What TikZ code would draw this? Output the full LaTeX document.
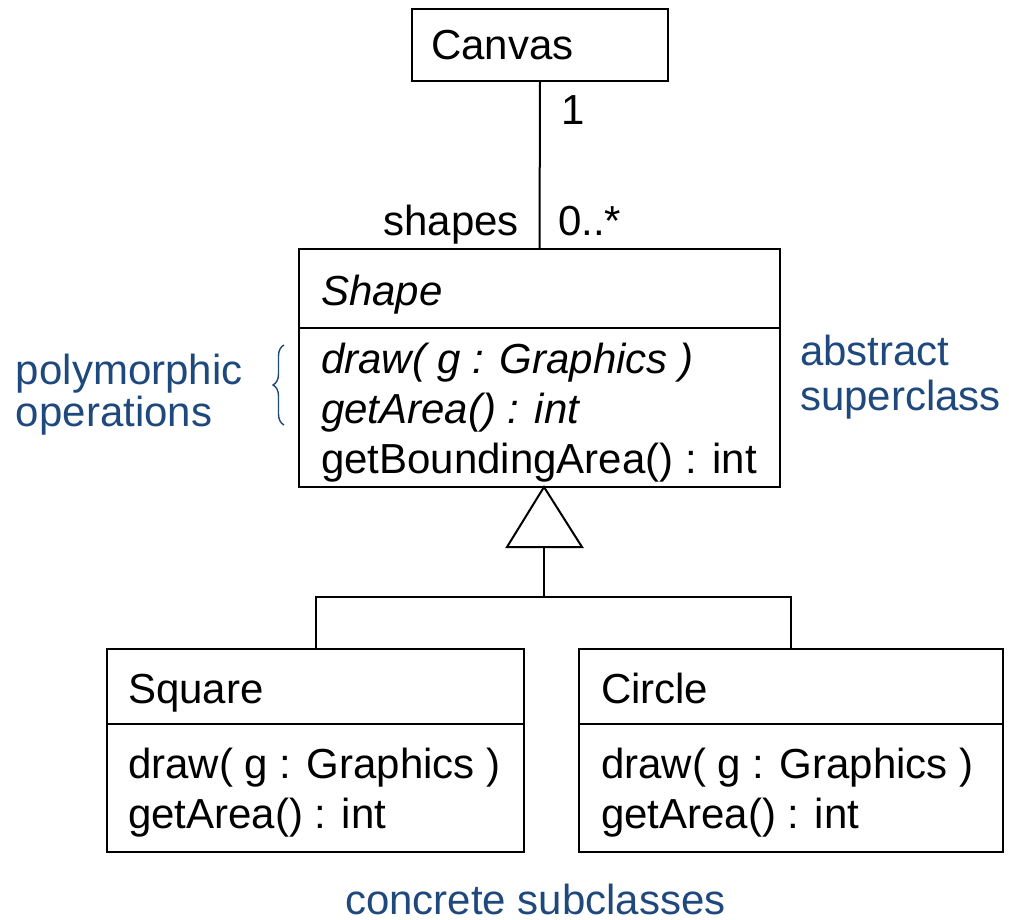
\documentclass[tikz,border=0pt]{standalone}
\usepackage{fontspec}
\setmainfont{Liberation Sans}
\usetikzlibrary{decorations.pathreplacing}
\definecolor{noteblue}{RGB}{31,73,125}
\begin{document}
\begin{tikzpicture}[x=1pt,y=-1pt,
  box/.style={draw=black, line width=2pt, inner sep=0pt, outer sep=0pt, anchor=north west},
  txt/.style={anchor=base west, inner sep=0pt, outer sep=0pt, font=\fontsize{42}{50}\selectfont},
  note/.style={txt, text=noteblue},
  conn/.style={draw=black, line width=2pt}]
\useasboundingbox (0,0) rectangle (1009,920);

% Canvas
\node[box, minimum width=256pt, minimum height=72pt] (canvas) at (412,9) {};
\node[txt] (canvasname) at (431,60) {Canvas};

% Shape
\node[box, minimum width=481pt, minimum height=238pt] (shape) at (299,249) {};
\draw[conn] (shape.west |- 0,328) -- (shape.east |- 0,328);
\node[txt] (shapename) at (321,305) {\itshape Shape};
\node[txt] (sop1) at (321,373) {\itshape draw( g : Graphics )};
\node[txt] (sop2) at (321,423) {\itshape getArea() : int};
\node[txt] (sop3) at (321,473) {getBoundingArea() : int};

% association
\draw[conn] (canvas.south) -- (shape.north);
\node[txt] (mult1) at (561,125) {1};
\node[txt, anchor=base east] (role) at (519,236) {shapes};
\node[txt] (mult2) at (558,236) {0..*};

% Square
\node[box, minimum width=417pt, minimum height=203pt] (square) at (107,649) {};
\draw[conn] (square.west |- 0,724) -- (square.east |- 0,724);
\node[txt] (sqname) at (128,703) {Square};
\node[txt] (sqop1) at (128,778) {draw( g : Graphics )};
\node[txt] (sqop2) at (128,828) {getArea() : int};

% Circle
\node[box, minimum width=424pt, minimum height=203pt] (circle) at (579,649) {};
\draw[conn] (circle.west |- 0,724) -- (circle.east |- 0,724);
\node[txt] (ciname) at (601,703) {Circle};
\node[txt] (ciop1) at (601,778) {draw( g : Graphics )};
\node[txt] (ciop2) at (601,828) {getArea() : int};

% generalization
\coordinate (apex) at (544,487);
\coordinate (tbase) at (544,547);
\coordinate (bar) at (544,597);
\draw[conn] (square.north) |- (bar) -| (circle.north);
\draw[conn] (tbase) -- (bar);
\draw[conn, fill=white, line join=miter] (apex) -- (507,547) -- (582,547) -- cycle;

% notes
\draw[noteblue, line width=1.4pt, decorate, decoration={brace, amplitude=11pt}] (284,425) -- (284,345);
\node[note] (poly1) at (16,384) {polymorphic};
\node[note] (poly2) at (16,426) {operations};
\node[note] (abs1) at (800,365) {abstract};
\node[note] (abs2) at (800,410) {superclass};
\node[note] (conc) at (345,914) {concrete subclasses};
\end{tikzpicture}
\end{document}
